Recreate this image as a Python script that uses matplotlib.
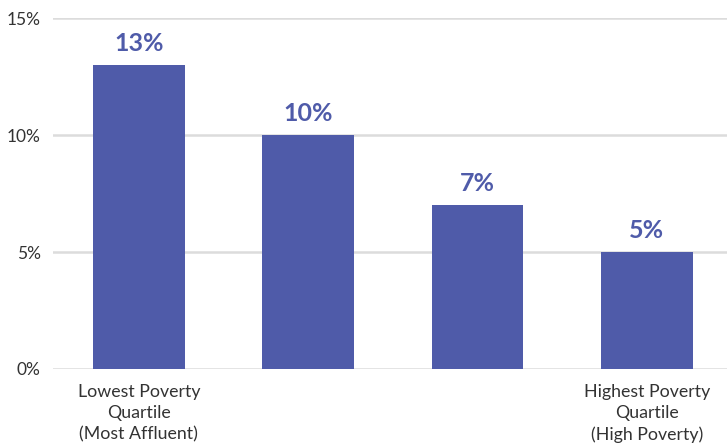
import matplotlib.pyplot as plt
from matplotlib.ticker import FuncFormatter

# 데이터
categories = ['Lowest Poverty\nQuartile\n(Most Affluent)', '', '', 'Highest Poverty\nQuartile\n(High Poverty)']
values = [13, 10, 7, 5]
value_labels = ['13%', '10%', '7%', '5%']
y_ticks = [0, 5, 10, 15]

plt.rcParams['font.family'] = ['Lato', 'DejaVu Sans']

fig = plt.figure(figsize=(7.28, 4.47), dpi=100)
ax = fig.add_axes([0.073, 0.1745, 0.925, 0.7852])

bar_color = '#4F5BA9'
x = list(range(len(values)))
ax.bar(x, values, width=0.54, color=bar_color, zorder=3)

for xi, v, lab in zip(x, values, value_labels):
    ax.text(xi, v + 0.42, lab, ha='center', va='bottom', fontsize=18,
            fontweight='bold', color=bar_color)

ax.set_xlim(-0.506, 3.47)
ax.set_ylim(0, 15)
ax.set_yticks(y_ticks)
ax.yaxis.set_major_formatter(FuncFormatter(lambda v, p: '{:.0f}%'.format(v)))
ax.set_xticks(x)
ax.set_xticklabels(categories, fontsize=12.8, color='#333333', linespacing=1.4)
ax.tick_params(axis='y', labelsize=12.5, colors='#333333', length=0, pad=9)
ax.tick_params(axis='x', length=0, pad=11)

ax.grid(axis='y', color='#dcdcdc', linewidth=1.8, zorder=0)
for s in ['top', 'right', 'left', 'bottom']:
    ax.spines[s].set_visible(False)

fig.savefig('out.png', dpi=100)
